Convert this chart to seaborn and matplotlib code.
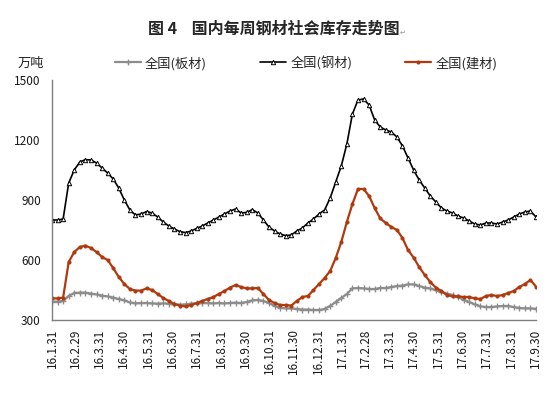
import pandas as pd
import matplotlib.pyplot as plt
import seaborn as sns

# weekly social inventory, 10k tonnes
flat_steel = [392, 392, 395, 420, 435, 437, 437, 432, 428, 422,
              418, 412, 405, 398, 388, 383, 385, 385, 383, 382,
              383, 382, 378, 377, 378, 382, 383, 385, 385, 383,
              385, 383, 385, 387, 385, 390, 398, 400, 395, 385,
              370, 362, 358, 358, 355, 352, 352, 350, 350, 355,
              370, 390, 410, 430, 458, 460, 458, 455, 455, 460,
              460, 465, 470, 472, 478, 478, 470, 462, 458, 448,
              440, 432, 425, 415, 400, 390, 378, 368, 365, 365,
              368, 370, 370, 365, 360, 358, 358, 356]
total_steel = [800, 800, 805, 985, 1050, 1090, 1102, 1100, 1085, 1060,
               1035, 1005, 960, 900, 850, 825, 830, 842, 835, 815,
               790, 770, 755, 742, 737, 745, 758, 770, 785, 800,
               815, 830, 845, 855, 835, 838, 852, 835, 800, 765,
               745, 730, 722, 725, 745, 760, 785, 805, 830, 850,
               910, 990, 1070, 1180, 1330, 1400, 1405, 1375, 1300, 1265,
               1250, 1240, 1215, 1170, 1110, 1050, 1000, 960, 920, 890,
               860, 845, 835, 820, 810, 795, 780, 775, 785, 785,
               780, 790, 800, 815, 830, 840, 845, 815]
long_steel = [408, 408, 412, 590, 640, 665, 672, 660, 640, 615,
              600, 560, 515, 480, 455, 447, 447, 458, 450, 430,
              410, 395, 380, 372, 368, 375, 385, 395, 405, 415,
              430, 445, 462, 475, 465, 458, 458, 460, 430, 400,
              385, 375, 375, 372, 395, 415, 420, 450, 480, 510,
              545, 610, 690, 790, 880, 955, 955, 920, 860, 808,
              785, 765, 750, 710, 650, 612, 565, 525, 490, 462,
              445, 425, 418, 418, 415, 415, 408, 405, 420, 425,
              420, 425, 435, 445, 465, 480, 500, 467]

series_names = ['全国(板材)', '全国(钢材)', '全国(建材)']
tick_labels = ['16.1.31', '16.2.29', '16.3.31', '16.4.30', '16.5.31', '16.6.30',
               '16.7.31', '16.8.31', '16.9.30', '16.10.31', '16.11.30', '16.12.31',
               '17.1.31', '17.2.28', '17.3.31', '17.4.30', '17.5.31', '17.6.30',
               '17.7.31', '17.8.31', '17.9.30']

weeks = pd.date_range('2016-01-31', periods=len(total_steel), freq='7D')
df = pd.DataFrame({'week': weeks,
                   series_names[0]: flat_steel,
                   series_names[1]: total_steel,
                   series_names[2]: long_steel})

sns.set_style('white')
plt.rcParams['font.family'] = ['Noto Sans CJK SC', 'DejaVu Sans']
plt.rcParams['axes.unicode_minus'] = False

fig = plt.figure(figsize=(5.5, 3.96), dpi=100)
ax = fig.add_axes([52 / 550, 1 - 320 / 396, 484 / 550, 240 / 396])

styles = {
    series_names[0]: dict(color='#8c8c8c', marker='+', markersize=4, markeredgewidth=1.0,
                          markeredgecolor='#8c8c8c', linewidth=1.6),
    series_names[1]: dict(color='black', marker='^', markersize=3.2, markerfacecolor='white',
                          markeredgecolor='black', markeredgewidth=0.7, linewidth=1.2),
    series_names[2]: dict(color='#b03a0e', marker='o', markersize=2.2,
                          markeredgecolor='#b03a0e', linewidth=1.6),
}
for name in series_names:
    sns.lineplot(data=df, x='week', y=name, ax=ax, label=name, **styles[name])

ax.set_ylim(300, 1500)
ax.set_yticks([300, 600, 900, 1200, 1500])
ax.set_xlim(weeks[0], weeks[-1])
tick_pos = pd.to_datetime(['20' + t for t in tick_labels], format='%Y.%m.%d')
ax.set_xticks(tick_pos)
ax.set_xticklabels(tick_labels, rotation=90, fontsize=8.5)
ax.set_xlabel('')
ax.set_ylabel('')

for side in ['top', 'right']:
    ax.spines[side].set_visible(False)
for side in ['left', 'bottom']:
    ax.spines[side].set_color('#7f7f7f')
    ax.spines[side].set_linewidth(1.0)
ax.tick_params(axis='both', direction='in', length=3, width=0.8, color='#555555',
               labelcolor='#1a1a1a')
ax.tick_params(axis='y', pad=8, labelsize=8.5)
ax.tick_params(axis='x', pad=6)

ax.get_legend().remove()
handles, labels = ax.get_legend_handles_labels()
fig.legend(handles, labels, loc='center', bbox_to_anchor=(306 / 550, 1 - 63 / 396),
           ncol=3, frameon=False, fontsize=9.5, handlelength=2.0, handletextpad=0.3,
           columnspacing=4.0)

fig.text(31 / 550, 1 - 63 / 396, '万吨', ha='center', va='center', fontsize=9.5)
fig.text(148 / 550, 1 - 29 / 396, '图 4    国内每周钢材社会库存走势图', ha='left', va='center',
         fontsize=11.5, fontweight='bold')
fig.text(400 / 550, 1 - 33 / 396, '↵', ha='left', va='center', fontsize=5, color='#999999',
         family='DejaVu Sans')

fig.savefig('out.png', dpi=100)
